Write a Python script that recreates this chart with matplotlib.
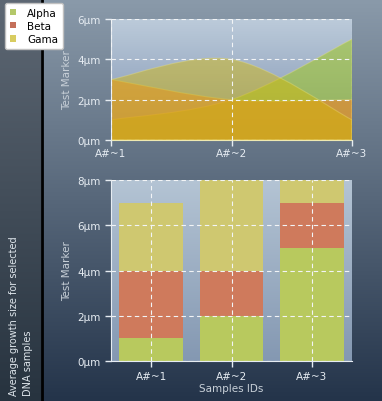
import numpy as np
import matplotlib
matplotlib.use("Agg")
import matplotlib.pyplot as plt
from matplotlib.path import Path
from matplotlib.patches import PathPatch, Patch
from matplotlib.colors import LinearSegmentedColormap

samples = ["A#~1", "A#~2", "A#~3"]
series_names = ["Alpha", "Beta", "Gama"]
alpha_vals = [1, 2, 5]
beta_vals = [3, 2, 2]
gama_vals = [3, 4, 1]
top_ticks = [0, 2, 4, 6]
bottom_ticks = [0, 2, 4, 6, 8]

# colour + opacity of each area in the top chart
area_colors = ["#a0c81e", "#ff781e", "#d7b900"]
area_alphas = [0.55, 0.5, 0.45]
bar_colors = ["#b8c95e", "#cf7a5c", "#cfc870"]
legend_colors = ["#b4c86a", "#c4705a", "#d8cc60"]
light = "#e6ecf2"

plt.rcParams["font.family"] = "DejaVu Sans"
plt.rcParams["font.size"] = 7

fig = plt.figure(figsize=(3.82, 4.02), dpi=100)


def vgrad(ax, top, bottom):
    cmap = LinearSegmentedColormap.from_list("g", [bottom, top])
    g = np.linspace(0, 1, 256).reshape(-1, 1)
    ax.imshow(g, cmap=cmap, aspect="auto", origin="lower",
              extent=[0, 1, 0, 1], transform=ax.transAxes, zorder=0)


# figure background
bg = fig.add_axes([0, 0, 1, 1])
bg.set_axis_off()
bg.set_xlim(0, 1)
bg.set_ylim(0, 1)
vgrad(bg, "#8a9aaa", "#24344a")
side = fig.add_axes([0, 0, 41 / 382, 1])
side.set_axis_off()
vgrad(side, "#5e6874", "#27333f")
bg.axvline(42 / 382, color="black", lw=2)

fig.text(21 / 382, 1 - 396 / 402, "Average growth size for selected\nDNA samples",
         rotation=90, color="#dde4ea", fontsize=7, ha="center", va="bottom",
         multialignment="left", linespacing=1.4)


def catmull(xs, ys):
    pts = np.column_stack([xs, ys]).astype(float)
    ext = np.vstack([pts[0], pts, pts[-1]])
    verts = [(pts[0][0], 0), tuple(pts[0])]
    codes = [Path.MOVETO, Path.LINETO]
    for i in range(len(pts) - 1):
        p0, p1, p2, p3 = ext[i], ext[i + 1], ext[i + 2], ext[i + 3]
        c1 = p1 + (p2 - p0) / 6
        c2 = p2 - (p3 - p1) / 6
        verts += [tuple(c1), tuple(c2), tuple(p2)]
        codes += [Path.CURVE4] * 3
    verts += [(pts[-1][0], 0), (pts[0][0], 0)]
    codes += [Path.LINETO, Path.CLOSEPOLY]
    return Path(verts, codes)


def style_axes(ax):
    for s in ["top", "right"]:
        ax.spines[s].set_visible(False)
    ax.spines["left"].set_color(light)
    ax.spines["bottom"].set_color("#eee8b0")
    ax.tick_params(colors=light, labelcolor=light, length=4, width=1,
                   labelsize=7.5)
    ax.grid(True, color="#f2f4f6", linestyle=(0, (4, 3)), lw=0.8)
    ax.set_axisbelow(False)
    ax.set_ylabel("Test Marker", color="#c8d0d8", fontsize=7.5, labelpad=4)


# top area chart
ax1 = fig.add_axes([111 / 382, 1 - 141 / 402, 241 / 382, 121 / 402])
ax1.set_facecolor("none")
vgrad(ax1, "#bccbda", "#7c90b0")
x = np.arange(len(samples))
for vals, c, a in zip([alpha_vals, beta_vals, gama_vals], area_colors, area_alphas):
    ax1.add_patch(PathPatch(catmull(x, vals), facecolor=c, edgecolor="none",
                            alpha=a, zorder=1))
    ax1.add_patch(PathPatch(catmull(x, vals), facecolor="none",
                            edgecolor="#eee480", alpha=0.35, lw=0.8, zorder=1))
ax1.set_xlim(0, 2)
ax1.set_ylim(0, 6)
ax1.set_xticks(x)
ax1.set_xticklabels(samples)
ax1.set_yticks(top_ticks)
ax1.set_yticklabels([f"{v}µm" for v in top_ticks])
style_axes(ax1)
ax1.tick_params(axis="x", pad=2)

# bottom stacked bar chart
ax2 = fig.add_axes([111 / 382, 1 - 362 / 402, 241 / 382, 181 / 402])
ax2.set_facecolor("none")
vgrad(ax2, "#b4c4d4", "#8498b2")
bottom = np.zeros(len(samples))
for vals, c in zip([alpha_vals, beta_vals, gama_vals], bar_colors):
    ax2.bar(x, vals, width=0.79, bottom=bottom, color=c, zorder=1)
    bottom += np.array(vals)
ax2.set_xlim(-0.5, 2.5)
ax2.set_ylim(0, 8)
ax2.set_xticks(x)
ax2.set_xticklabels(samples)
ax2.set_yticks(bottom_ticks)
ax2.set_yticklabels([f"{v}µm" for v in bottom_ticks])
style_axes(ax2)
ax2.spines["bottom"].set_color(light)
ax2.set_xlabel("Samples IDs", color="#c8d0d8", fontsize=7.5, labelpad=1)

handles = [Patch(facecolor=c, edgecolor="none") for c in legend_colors]
leg = fig.legend(handles, series_names, loc="upper left",
                 bbox_to_anchor=(5 / 382, 1 - 4 / 402), fontsize=7.5,
                 frameon=True, fancybox=True, handlelength=0.6,
                 handleheight=0.6, handletextpad=1.1, labelspacing=0.3,
                 borderpad=0.45, borderaxespad=0)
leg.get_frame().set_facecolor("white")
leg.get_frame().set_edgecolor("#c0c0c0")
leg.get_frame().set_alpha(1)

fig.savefig("out.png", dpi=100)
